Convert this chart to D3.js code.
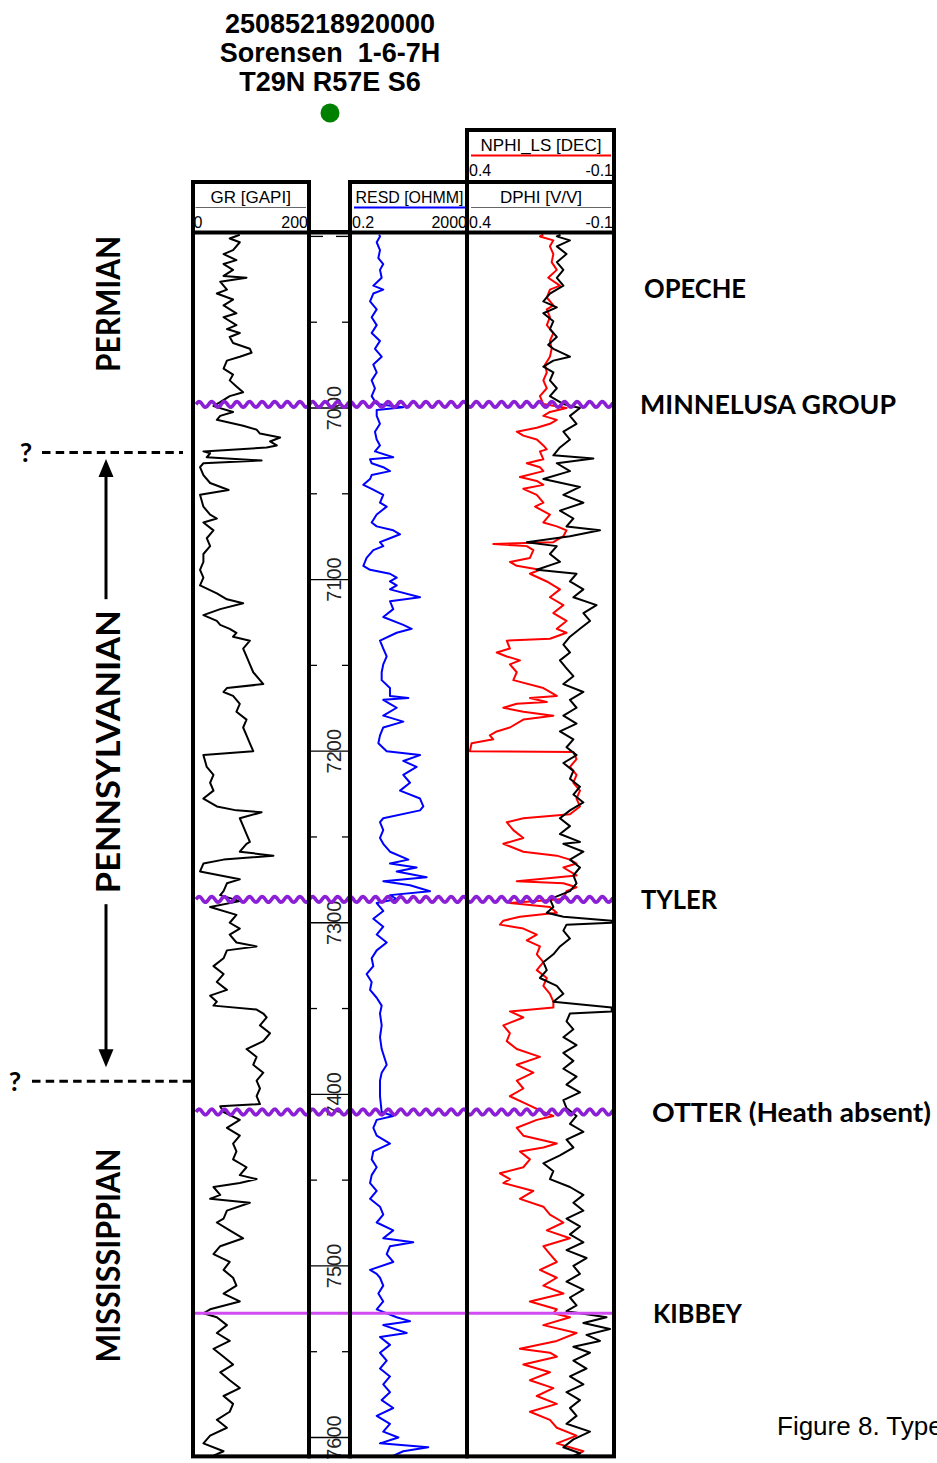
<!DOCTYPE html>
<html>
<head>
<meta charset="utf-8">
<script src="https://cdnjs.cloudflare.com/ajax/libs/d3/7.8.5/d3.min.js"></script>
<style>
  body { margin: 0; background: #fff; overflow: hidden; }
  svg { display: block; }
  .sans { font-family: "Liberation Sans", Arial, sans-serif; }
  .bold { font-family: Lato, "Open Sans", sans-serif; font-weight: 700; }
</style>
</head>
<body>
<script>
// well header
const wellTitle = ["25085218920000", "Sorensen  1-6-7H", "T29N R57E S6"];

// depth axis (ft)
const depthTop = 6899, depthBottom = 7611;
const depthTicks = d3.range(6900, 7601, 50);

// curves, [depth ft, value]
const gr = [[6899,80],[6901.2,62],[6903.4,80],[6908,68],[6910.3,51],[6913.8,74],[6916.1,51],[6919.5,68],[6923,51],[6924.1,92],[6926.4,45],[6931,57],[6933.3,39],[6936.8,68],[6940.2,51],[6944.8,74],[6947.1,51],[6951.7,74],[6954,57],[6956.3,80],[6958.6,62],[6962.1,68],[6965.5,98],[6967.8,101],[6970.1,80],[6972.4,57],[6977,51],[6980.5,68],[6983.9,62],[6987.4,74],[6990.8,86],[6993.1,62],[6996.6,45],[6998.9,33],[7002.3,68],[7004.6,45],[7006.9,39],[7010.3,86],[7012.6,110],[7014.9,116],[7017.2,152],[7019.5,134],[7021.8,146],[7023,128],[7025.3,15],[7026.4,27],[7028.7,21],[7030.6,119],[7032.2,15],[7034.5,9],[7039.1,15],[7043.7,27],[7047.8,60],[7050.6,9],[7057.5,15],[7062.1,27],[7064.4,39],[7066.7,15],[7071.3,33],[7075.9,21],[7080.5,27],[7085.1,15],[7089.7,15],[7094.3,9],[7098.9,15],[7103.4,9],[7108,39],[7111.5,57],[7113.8,86],[7117.2,45],[7120.7,15],[7124.1,39],[7126.4,45],[7128.7,62],[7131,74],[7133.3,68],[7135.6,98],[7140.2,86],[7144.8,92],[7149.4,98],[7154,104],[7158.6,116],[7160.9,122],[7163.2,57],[7165.5,51],[7167.8,68],[7172.4,80],[7177,74],[7181.6,92],[7186.2,86],[7190.8,92],[7195.4,98],[7200,104],[7202.3,15],[7209.2,21],[7213.8,33],[7218.4,27],[7223,33],[7227.6,15],[7232.2,39],[7234.5,74],[7235.6,119],[7239.1,80],[7243.7,86],[7248.3,92],[7252.9,98],
  [7254,92],[7258.6,80],[7260.9,140],[7263.2,51],[7265.5,15],[7270.1,9],[7274.7,80],[7277,57],[7281.6,51],[7283.9,45],[7287.4,80],[7290.8,27],[7295.4,74],[7300,62],[7303.4,80],[7306.9,62],[7311.5,74],[7313.8,110],[7316.1,57],[7320.7,51],[7325.3,33],[7329.9,51],[7334.5,39],[7339.1,57],[7342.5,27],[7346,39],[7348.3,33],[7350.6,110],[7352.9,122],[7355.2,128],[7359.8,116],[7364.4,134],[7369,122],[7373.6,92],[7378.2,110],[7382.8,104],[7387.4,122],[7392,110],[7396.6,116],[7401.1,110],[7405.7,116],[7406.9,45],[7410.3,51],[7414.9,80],[7419.5,57],[7424.1,80],[7428.7,68],[7433.3,74],[7437.9,68],[7442.5,92],[7447.1,80],[7449.4,110],[7451.7,80],[7454,33],[7458.6,45],[7460.9,27],[7463.2,98],[7467.8,57],[7472.4,51],[7474.7,39],[7479.3,62],[7483.9,86],[7488.5,45],[7493.1,33],[7497.7,62],[7502.3,51],[7506.9,68],[7511.5,74],[7516.1,51],[7520.7,80],[7525.3,27],[7527.6,15],[7529.9,39],[7534.5,57],[7539.1,39],[7543.7,62],[7548.3,33],[7552.9,51],[7557.5,68],[7562,45],[7566.6,62],[7571.2,80],[7575.8,51],[7580.4,68],[7585,62],[7589.7,39],[7594.3,57],[7598.9,27],[7603.4,15],[7608,51],[7611,30]];

const resd = [[6899,1.8],[6900,1.92],[6903.4,1.47],[6908,1.92],[6912.6,1.68],[6916.1,2.5],[6919.5,1.92],[6924.1,2.2],[6928.7,1.12],[6931,2.5],[6933.3,1.12],[6937.9,0.86],[6942.5,1.47],[6947.1,0.98],[6951.7,1.47],[6956.3,0.98],[6960.9,1.92],[6965.5,1.28],[6970.1,2.2],[6974.7,1.12],[6979.3,1.47],[6983.9,0.98],[6988.5,1.28],[6993.1,0.98],[6997.7,1.47],[6999.5,12.6],[7001.1,1.47],[7004.6,1.47],[7009.2,1.92],[7013.8,1.28],[7018.4,1.47],[7021.8,1.92],[7025.3,1.28],[7028.7,5.6],[7029.9,0.86],[7032.2,0.98],[7034.5,2.5],[7036.8,4.3],[7039.1,0.98],[7041.4,0.86],[7044.8,0.5],[7047.1,0.98],[7050.6,2.5],[7055.2,1.92],[7057.5,3.3],[7062.1,1.47],[7066.7,0.98],[7069,1.47],[7071.3,5.6],[7073.6,9.7],[7075.9,4.3],[7078.2,1.92],[7080.5,2.5],[7082.8,1.12],[7087.4,0.65],[7092,0.5],[7094.3,0.86],[7096.6,4.3],[7098.9,7.4],[7101.1,4.3],[7103.4,7.4],[7105.7,4.3],[7110.3,48.7],[7112.6,4.3],[7117.2,5.6],[7121.8,2.5],[7126.4,12.6],[7128.7,24.8],[7131,7.4],[7135.6,1.92],[7140.2,2.5],[7144.8,3.3],[7149.4,2.5],[7154,2.2],[7158.6,2.2],[7163.2,4.3],[7167.8,4.3],[7169,19],[7170.1,2.5],[7172.4,4.3],[7174.7,7.4],[7179.3,2.5],[7182.8,12.6],[7186.2,2.5],[7190.8,1.92],[7195.4,1.68],[7200,3.3],[7202.3,48.7],[7205.7,12.6],[7209.2,37],[7213.8,12.6],[7218.4,21.7],[7223,9.7],[7227.6,48.7],[7232.2,63.7],[7234.5,48.7],[7239.1,2.5],[7241.4,1.92],[7246,2.5],[7250.6,1.92],
  [7254,2.5],[7258.6,4.3],[7263.2,19],[7265.5,4.3],[7267.8,37],[7270.1,7.4],[7273.5,83],[7275.8,2.5],[7278.1,21.7],[7281.6,109],[7283.9,4.3],[7286.2,7.4],[7288.5,1.47],[7293.1,2.5],[7297.7,1.12],[7302.3,2.5],[7306.9,1.47],[7311.5,3.3],[7316.1,1.47],[7320.7,0.98],[7325.3,1.12],[7329.9,0.65],[7334.5,0.98],[7339.1,0.86],[7343.7,1.47],[7348.3,2.2],[7352.9,1.92],[7359.8,2.2],[7366.7,1.92],[7373.6,2.2],[7382.8,3.3],[7387.4,2.2],[7392,1.92],[7401.1,1.92],[7410.3,2.2],[7412.6,5.6],[7414.9,1.47],[7419.5,1.12],[7424.1,1.47],[7428.7,4.3],[7433.3,1.12],[7437.9,0.98],[7442.5,1.47],[7447.1,0.98],[7451.7,0.86],[7456.3,1.47],[7460.9,0.86],[7465.5,1.92],[7470.1,2.5],[7474.7,1.47],[7479.3,5.6],[7483.9,2.5],[7486.2,28.3],[7488.5,4.3],[7493.1,3.3],[7497.7,5.6],[7502.3,0.86],[7504.6,1.47],[7506.9,1.92],[7511.5,2.5],[7516.1,1.68],[7520.7,2.5],[7525.3,1.47],[7529.9,7.4],[7532.2,21.7],[7534.5,2.5],[7539.1,16.6],[7541.4,1.92],[7546,4.3],[7550.6,1.92],[7555.2,3.3],[7559.8,1.92],[7564.4,4.3],[7569,2.5],[7573.6,4.3],[7578.2,2.2],[7582.8,5.6],[7587.4,1.47],[7592,4.3],[7596.6,2.5],[7600,8.5],[7603.4,1.92],[7605.7,95],[7608,12.6],[7611,5]];

const nphi = [[6899,0.14],[6900,0.152],[6902.3,0.105],[6905.8,0.117],[6910.3,0.105],[6915,0.111],[6919.5,0.093],[6924.1,0.123],[6928.7,0.082],[6931,0.117],[6935.6,0.128],[6940.2,0.105],[6942.5,0.128],[6947.1,0.117],[6951.7,0.128],[6956.3,0.105],[6960.9,0.117],[6965.5,0.111],[6970.1,0.117],[6974.7,0.134],[6979.3,0.128],[6983.9,0.14],[6988.5,0.128],[6993.1,0.152],[6997.7,0.14],[7000,0.059],[7002.3,0.117],[7004.6,0.14],[7006.9,0.093],[7009.2,0.117],[7011.5,0.163],[7013.8,0.233],[7016.1,0.21],[7018.4,0.163],[7021.8,0.14],[7024.1,0.128],[7025.3,0.152],[7029.9,0.14],[7032.2,0.198],[7034.5,0.152],[7036.8,0.14],[7040.2,0.222],[7042.5,0.163],[7044.8,0.14],[7047.1,0.21],[7050.6,0.163],[7055.2,0.14],[7057.5,0.169],[7062.1,0.117],[7066.7,0.14],[7069,0.093],[7071.3,0.059],[7074.7,0.07],[7078.2,0.105],[7079.3,0.315],[7080.5,0.198],[7082.8,0.175],[7087.4,0.187],[7089.7,0.257],[7092,0.233],[7094.3,0.152],[7096.6,0.187],[7101.1,0.128],[7105.7,0.082],[7110.3,0.117],[7114.9,0.07],[7119.5,0.105],[7124.1,0.059],[7128.7,0.093],[7131,0.059],[7134.5,0.117],[7135.6,0.268],[7140.2,0.257],[7142.5,0.303],[7144.8,0.268],[7147.1,0.222],[7149.4,0.257],[7154,0.233],[7158.6,0.245],[7163.2,0.14],[7165.5,0.117],[7167.8,0.093],[7169,0.187],[7171.3,0.128],[7172.4,0.233],[7174.7,0.28],[7177,0.21],[7179.3,0.105],[7181.6,0.21],[7186.2,0.257],[7188.5,0.303],[7190.8,0.327],[7193.1,0.315],[7195.4,0.391],[7200,0.397],[7200.5,0.035],[7204.6,0.024],[7209.2,0.047],[7213.8,0.024],[7218.4,0.035],[7223,0.012],[7227.6,0.024],[7232.2,0.012],[7236.8,0.047],[7239.1,0.21],[7241.4,0.268],[7246,0.245],[7250.6,0.21],
  [7254,0.28],[7258.6,0.21],[7260.9,0.093],[7263.2,0.047],[7265.5,0.024],[7267.8,0.07],[7272.4,0.024],[7275.8,0.233],[7277,0.07],[7279.3,0.024],[7281.6,0.059],[7286.2,0.07],[7288.5,0.257],[7290.8,0.117],[7294.2,0.093],[7296.5,0.222],[7298.8,0.28],[7301.1,0.292],[7303.4,0.21],[7306.9,0.163],[7310.3,0.198],[7313.8,0.152],[7318.4,0.163],[7323,0.14],[7327.6,0.163],[7332.2,0.128],[7336.8,0.14],[7341.4,0.117],[7346,0.105],[7349.4,0.105],[7351.7,0.257],[7355.2,0.21],[7359.8,0.28],[7364.4,0.257],[7369,0.268],[7373.6,0.233],[7378.2,0.152],[7382.8,0.233],[7387.4,0.175],[7392,0.233],[7396.6,0.21],[7401.1,0.257],[7405.7,0.198],[7410.3,0.14],[7412.6,0.105],[7414.9,0.163],[7419.5,0.233],[7424.1,0.21],[7428.7,0.093],[7431,0.14],[7433.3,0.222],[7437.9,0.187],[7442.5,0.21],[7446,0.292],[7449.4,0.257],[7451.7,0.28],[7456.3,0.175],[7460.9,0.222],[7465.5,0.14],[7470.1,0.117],[7474.7,0.07],[7479.3,0.128],[7483.9,0.047],[7488.5,0.14],[7493.1,0.117],[7497.7,0.093],[7502.3,0.152],[7506.9,0.093],[7511.5,0.14],[7516.1,0.07],[7520.7,0.187],[7525.3,0.093],[7527.6,0.105],[7529.9,0.047],[7534.5,0.14],[7539.1,0.024],[7543.7,0.093],[7548.3,0.222],[7550.6,0.117],[7552.9,0.093],[7557.5,0.21],[7562,0.117],[7566.6,0.187],[7571.2,0.105],[7575.8,0.163],[7580.4,0.093],[7585,0.187],[7589.7,0.117],[7594.3,0.093],[7598.9,0.024],[7603.4,0.093],[7608,0],[7611,0.03]];

const dphi = [[6899,0.08],[6900,0.093],[6902.3,0.047],[6905.8,0.093],[6910.3,0.059],[6915,0.093],[6919.5,0.07],[6924.1,0.093],[6928.7,0.07],[6933.3,0.117],[6937.9,0.14],[6941.4,0.093],[6944.8,0.14],[6949.4,0.105],[6954,0.117],[6958.6,0.093],[6963.2,0.123],[6965.5,0.105],[6970.1,0.047],[6972.4,0.105],[6975.9,0.14],[6979.3,0.105],[6983.9,0.117],[6988.5,0.093],[6993.1,0.117],[6997.7,0.07],[7000,0.012],[7004.6,0.047],[7009.2,0.024],[7013.8,0.07],[7018.4,0.047],[7023,0.082],[7027.6,0.105],[7029.4,-0.035],[7032.2,0.093],[7036.8,0.047],[7041.4,0.14],[7046,0.012],[7050.6,0.07],[7055.2,0],[7059.8,0.082],[7064.4,0.035],[7069,0.059],[7071.3,-0.058],[7074.7,0.047],[7078.2,0.198],[7080.5,0.093],[7085.1,0.117],[7089.7,0.082],[7094.3,0.163],[7096.6,0.024],[7101.1,0.047],[7105.7,0],[7110.3,0.035],[7114.9,-0.046],[7119.5,0],[7124.1,-0.023],[7128.7,0.012],[7133.3,0.047],[7137.9,0.07],[7142.5,0.047],[7147.1,0.082],[7151.7,0.059],[7156.3,0.035],[7160.9,0.07],[7165.5,0],[7170.1,0.047],[7174.7,0.024],[7179.3,0.07],[7183.9,0.024],[7188.5,0.082],[7193.1,0.035],[7197.7,0.059],[7202.3,0.024],[7206.9,0.07],[7211.5,0.035],[7216.1,0.047],[7220.7,0.012],[7225.3,0.035],[7229.9,0],[7234.5,0.047],[7239.1,0.082],[7243.7,0.047],[7248.3,0.082],[7252.9,0.012],
  [7254,0.07],[7258.6,0],[7263.2,0.047],[7267.8,0.012],[7272.4,0.035],[7277,0.024],[7281.6,0.047],[7286.2,0.117],[7290.8,0.105],[7294.2,0.128],[7296.5,0.07],[7298.8,-0.099],[7300,-0.099],[7301.1,0.059],[7304.6,0.07],[7309.2,0.047],[7313.8,0.082],[7318.4,0.105],[7323,0.14],[7327.6,0.128],[7332.2,0.152],[7336.8,0.093],[7341.4,0.07],[7346,0.105],[7349.4,-0.099],[7351.7,-0.099],[7352.9,0.047],[7357.5,0.059],[7362.1,0.035],[7366.7,0.07],[7371.3,0.024],[7375.9,0.07],[7380.5,0.035],[7385.1,0.07],[7389.7,0.024],[7394.3,0.059],[7398.9,0.012],[7403.4,0.07],[7408,0.059],[7412.6,0.024],[7417.2,0.047],[7421.8,0],[7426.4,0.059],[7431,0.035],[7435.6,0.082],[7440.2,0.14],[7444.8,0.105],[7449.4,0.117],[7454,0.047],[7458.6,0],[7463.2,0.035],[7467.8,0],[7472.4,0.059],[7477,0.012],[7481.6,0.047],[7486.2,0],[7490.8,0.059],[7495.4,-0.011],[7500,0.035],[7504.6,0.012],[7509.2,0.059],[7513.8,0],[7518.4,0.047],[7523,0.024],[7526.4,0.059],[7529.9,-0.081],[7533.3,0],[7536.8,-0.093],[7540.2,-0.011],[7543.7,-0.058],[7547.1,0.035],[7550.6,-0.023],[7555.2,0.035],[7559.8,-0.011],[7564.4,0.047],[7569,0],[7573.6,0.059],[7578.2,0.012],[7582.8,0.047],[7587.4,0.024],[7592,0.059],[7596.6,-0.023],[7601.1,0.035],[7605.7,0.07],[7609.2,0.012],[7611,0.04]];

// formation tops
const topNames = ["OPECHE", "MINNELUSA GROUP", "TYLER", "OTTER (Heath absent)", "KIBBEY"];
const topDepths = [6930, 6997.9, 7286.4, 7410.3, 7527.6];
const topLine = [null, "wavy", "wavy", "wavy", "straight"];

// systems
const systemNames = ["PERMIAN", "PENNSYLVANIAN", "MISSISSIPPIAN"];
const systemMid = [6939.4, 7200.3, 7493.9];
const pennBounds = [7026, 7392.4];

// ---------- layout ----------
const W = 937, H = 1463;
const svg = d3.select('body').append('svg').attr('width', W).attr('height', H);

const y = d3.scaleLinear().domain([7000, 7600]).range([408, 1437.5]);
const yBot = y(depthBottom);

const grX = d3.scaleLinear().domain([0, 200]).range([195, 307]);
const resX = d3.scaleLog().domain([0.2, 2000]).range([352, 466]);
const porX = d3.scaleLinear().domain([0.4, -0.1]).range([469, 612]);

const tracks = [
  { id: 'gr', x0: 193, x1: 309, top: 182 },
  { id: 'depth', x0: 309, x1: 350, top: 232 },
  { id: 'res', x0: 350, x1: 467, top: 182 },
  { id: 'por', x0: 467, x1: 614, top: 130 }
];

const defs = svg.append('defs');
tracks.forEach(t => {
  defs.append('clipPath').attr('id', 'clip-' + t.id)
    .append('rect')
    .attr('x', t.x0 + 2).attr('y', 234)
    .attr('width', t.x1 - t.x0 - 4).attr('height', yBot - 234);
});

// title
svg.append('g').selectAll('text').data(wellTitle).join('text')
  .attr('class', 'sans')
  .attr('x', 330).attr('y', (d, i) => 33 + i * 29)
  .attr('text-anchor', 'middle')
  .style('font-size', '27px').style('font-weight', 700)
  .style('white-space', 'pre')
  .text(d => d);

svg.append('circle').attr('cx', 330).attr('cy', 113).attr('r', 9.5).attr('fill', '#008000');

// depth ticks
const dg = svg.append('g');
depthTicks.forEach(d => {
  const yy = y(d);
  if (d % 100 === 0 && d > depthTop + 50) {
    dg.append('line').attr('x1', 311).attr('x2', 348).attr('y1', yy).attr('y2', yy)
      .attr('stroke', '#000').attr('stroke-width', 1.3);
    dg.append('text').attr('class', 'sans')
      .attr('transform', `translate(340.5,${yy}) rotate(-90)`)
      .attr('text-anchor', 'middle')
      .style('font-size', '20px').attr('fill', '#222')
      .text(d);
  } else {
    const len = d % 100 === 0 ? 12 : 6;
    [[311, 311 + len], [348 - len, 348]].forEach(([a, b]) => {
      dg.append('line').attr('x1', a).attr('x2', b).attr('y1', yy).attr('y2', yy)
        .attr('stroke', '#000').attr('stroke-width', 1.3);
    });
  }
});

// curves
const curves = [
  { data: gr, sx: grX, color: '#000', clip: 'gr' },
  { data: resd, sx: resX, color: '#0000ff', clip: 'res' },
  { data: nphi, sx: porX, color: '#ff0000', clip: 'por' },
  { data: dphi, sx: porX, color: '#000', clip: 'por' }
];
curves.forEach(c => {
  svg.append('path')
    .attr('clip-path', `url(#clip-${c.clip})`)
    .attr('d', d3.line().x(d => c.sx(d[1])).y(d => y(d[0]))(c.data))
    .attr('fill', 'none')
    .attr('stroke', c.color)
    .attr('stroke-width', 2)
    .attr('stroke-linejoin', 'round');
});

// formation top lines
function wavy(yy, x0, x1) {
  const pts = d3.range(x0, x1 + 0.5, 1).map(x => [x, yy - 2.8 * Math.sin((x - x0) / 12.6 * 2 * Math.PI)]);
  return d3.line()(pts);
}
topDepths.forEach((d, i) => {
  if (topLine[i] === 'wavy') {
    svg.append('path').attr('d', wavy(y(d), 196, 613))
      .attr('fill', 'none').attr('stroke', '#8a1fd6').attr('stroke-width', 3.6);
  } else if (topLine[i] === 'straight') {
    svg.append('line').attr('x1', 195).attr('x2', 612).attr('y1', y(d)).attr('y2', y(d))
      .attr('stroke', '#d14cf2').attr('stroke-width', 3.2);
  }
});

// track frames
const fg = svg.append('g').attr('fill', 'none').attr('stroke', '#000').attr('stroke-width', 4);
tracks.forEach(t => {
  fg.append('rect').attr('x', t.x0).attr('y', t.top)
    .attr('width', t.x1 - t.x0).attr('height', yBot - t.top);
});
fg.append('line').attr('x1', 193).attr('x2', 614).attr('y1', 232.5).attr('y2', 232.5);
fg.append('line').attr('x1', 467).attr('x2', 614).attr('y1', 182).attr('y2', 182);

// track headers
const headers = [
  { name: 'GR [GAPI]', lo: '0', hi: '200', x0: 193.5, x1: 308, base: 203, color: '#666', lineW: 1 },
  { name: 'RESD [OHMM]', lo: '0.2', hi: '2000', x0: 352, x1: 467, base: 203, color: '#0000ff', lineW: 2, fit: 108 },
  { name: 'DPHI [V/V]', lo: '0.4', hi: '-0.1', x0: 469, x1: 613, base: 203, color: '#666', lineW: 1 },
  { name: 'NPHI_LS [DEC]', lo: '0.4', hi: '-0.1', x0: 469, x1: 613, base: 151, color: '#ff0000', lineW: 2 }
];
const hg = svg.append('g').attr('class', 'sans');
headers.forEach(h => {
  const t = hg.append('text').attr('x', (h.x0 + h.x1) / 2).attr('y', h.base)
    .attr('text-anchor', 'middle').style('font-size', '17px').text(h.name);
  if (h.fit) t.attr('textLength', h.fit).attr('lengthAdjust', 'spacingAndGlyphs');
  hg.append('line').attr('x1', h.x0 + 2).attr('x2', h.x1 - 2)
    .attr('y1', h.base + 4.5).attr('y2', h.base + 4.5)
    .attr('stroke', h.color).attr('stroke-width', h.lineW);
  hg.append('text').attr('x', h.x0).attr('y', h.base + 24.5)
    .style('font-size', '16px').text(h.lo);
  hg.append('text').attr('x', h.x1).attr('y', h.base + 24.5)
    .attr('text-anchor', 'end').style('font-size', '16px').text(h.hi);
});

// formation labels
const labelX = [644, 640, 641, 652, 653];
const labelLen = [102, 256, 76, 279, 89];
svg.append('g').selectAll('text').data(topNames).join('text')
  .attr('class', 'bold')
  .attr('x', (d, i) => labelX[i])
  .attr('y', (d, i) => y(topDepths[i]))
  .attr('dy', '0.36em')
  .attr('textLength', (d, i) => labelLen[i])
  .attr('lengthAdjust', 'spacingAndGlyphs')
  .style('font-size', '27px')
  .text(d => d);

// system labels
const sysLen = [136, 283, 214];
svg.append('g').selectAll('text').data(systemNames).join('text')
  .attr('class', 'bold')
  .attr('transform', (d, i) => `translate(108,${y(systemMid[i])}) rotate(-90)`)
  .attr('dy', '0.36em')
  .attr('text-anchor', 'middle')
  .attr('textLength', (d, i) => sysLen[i])
  .attr('lengthAdjust', 'spacingAndGlyphs')
  .style('font-size', '33px')
  .text(d => d);

// uncertain boundaries
const qx = [[26, 42, 183], [15, 32, 192]];
pennBounds.forEach((d, i) => {
  const yy = y(d);
  svg.append('line').attr('x1', qx[i][1]).attr('x2', qx[i][2]).attr('y1', yy).attr('y2', yy)
    .attr('stroke', '#000').attr('stroke-width', 3).attr('stroke-dasharray', '8.5,5.2');
  svg.append('text').attr('class', 'bold').attr('x', qx[i][0]).attr('y', yy)
    .attr('dy', '0.36em').attr('text-anchor', 'middle')
    .style('font-size', '27px').text('?');
});

// arrow
const ax = 106;
const tipTop = y(pennBounds[0]) + 6.5, tipBot = y(pennBounds[1]) - 14;
const penTxtTop = y(systemMid[1]) - sysLen[1] / 2, penTxtBot = y(systemMid[1]) + sysLen[1] / 2;
const ag = svg.append('g');
ag.append('line').attr('x1', ax).attr('x2', ax).attr('y1', tipTop + 14).attr('y2', penTxtTop - 11)
  .attr('stroke', '#000').attr('stroke-width', 3);
ag.append('line').attr('x1', ax).attr('x2', ax).attr('y1', penTxtBot + 11).attr('y2', tipBot - 14)
  .attr('stroke', '#000').attr('stroke-width', 3);
ag.append('path').attr('d', `M${ax},${tipTop} L${ax - 7.5},${tipTop + 18} L${ax + 7.5},${tipTop + 18} Z`);
ag.append('path').attr('d', `M${ax},${tipBot} L${ax - 7.5},${tipBot - 18} L${ax + 7.5},${tipBot - 18} Z`);

// caption, running off the right edge as in the reference
svg.append('text').attr('class', 'sans').attr('x', 777).attr('y', 1435)
  .style('font-size', '26px').text('Figure 8. Type log');
</script>
</body>
</html>
